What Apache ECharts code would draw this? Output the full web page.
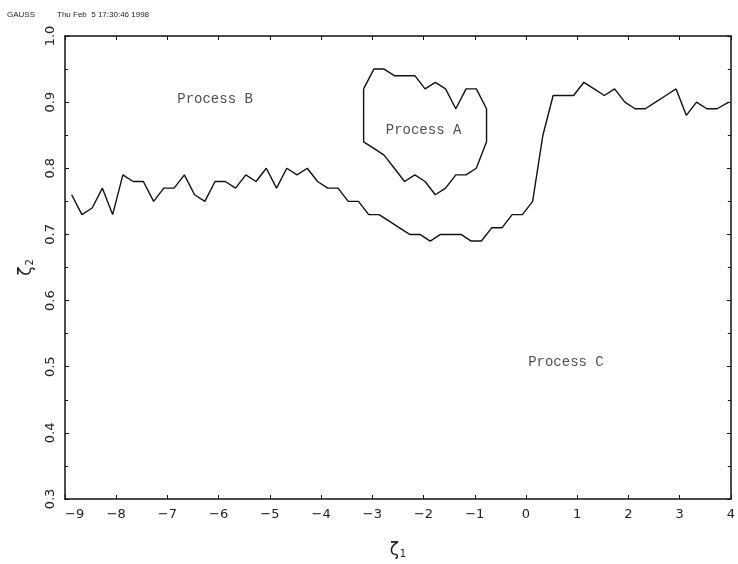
<!DOCTYPE html>
<html>
<head>
<meta charset="utf-8">
<script src="https://cdn.jsdelivr.net/npm/echarts@6/dist/echarts.min.js"></script>
<style>html,body{margin:0;padding:0;background:#fff;}#c{width:738px;height:564px;}</style>
</head>
<body>
<div id="c"></div>
<script>
// ---- data ----
const curveX = [
  -8.87, -8.67, -8.47, -8.27, -8.07, -7.87, -7.67, -7.47, -7.27, -7.07,
  -6.87, -6.67, -6.47, -6.27, -6.07, -5.87, -5.67, -5.47, -5.27, -5.07,
  -4.87, -4.67, -4.47, -4.27, -4.07, -3.87, -3.67, -3.47, -3.27, -3.07,
  -2.87, -2.67, -2.47, -2.27, -2.07, -1.87, -1.67, -1.47, -1.27, -1.07,
  -0.87, -0.67, -0.47, -0.27, -0.07, 0.13, 0.33, 0.53, 0.73, 0.93,
  1.13, 1.33, 1.53, 1.73, 1.93, 2.13, 2.33, 2.53, 2.73, 2.93,
  3.13, 3.33, 3.53, 3.73, 3.96
];
const curveY = [
  0.76, 0.73, 0.74, 0.77, 0.73, 0.79, 0.78, 0.78, 0.75, 0.77,
  0.77, 0.79, 0.76, 0.75, 0.78, 0.78, 0.77, 0.79, 0.78, 0.80,
  0.77, 0.80, 0.79, 0.80, 0.78, 0.77, 0.77, 0.75, 0.75, 0.73,
  0.73, 0.72, 0.71, 0.70, 0.70, 0.69, 0.70, 0.70, 0.70, 0.69,
  0.69, 0.71, 0.71, 0.73, 0.73, 0.75, 0.85, 0.91, 0.91, 0.91,
  0.93, 0.92, 0.91, 0.92, 0.90, 0.89, 0.89, 0.90, 0.91, 0.92,
  0.88, 0.90, 0.89, 0.89, 0.90
];
// closed boundary of region "Process A"
const regionAX = [
  -3.17, -2.97, -2.77, -2.57, -2.37, -2.17, -1.97, -1.77, -1.57, -1.37, -1.17, -0.97, -0.77,
  -0.77, -0.97, -1.17, -1.37, -1.57, -1.77, -1.97, -2.17, -2.37, -2.57, -2.77, -2.97, -3.17, -3.17
];
const regionAY = [
  0.92, 0.95, 0.95, 0.94, 0.94, 0.94, 0.92, 0.93, 0.92, 0.89, 0.92, 0.92, 0.89,
  0.84, 0.80, 0.79, 0.79, 0.77, 0.76, 0.78, 0.79, 0.78, 0.80, 0.82, 0.83, 0.84, 0.92
];
const labelNames = ['Process B', 'Process A', 'Process C'];
const labelX = [-6.07, -2.0, 0.78];
const labelY = [0.905, 0.857, 0.507];
const xTicks = [-9, -8, -7, -6, -5, -4, -3, -2, -1, 0, 1, 2, 3, 4];
const yTicks = [0.3, 0.4, 0.5, 0.6, 0.7, 0.8, 0.9, 1.0];
const headerLeft = 'GAUSS';
const headerRight = 'Thu Feb  5 17:30:46 1998';

const zip = (a, b) => a.map((v, i) => [v, b[i]]);

const ink = '#111';
const axisCommon = {
  type: 'value',
  axisLine: { show: true, onZero: false, lineStyle: { color: ink, width: 1.5 } },
  axisTick: { show: true, inside: true, length: 4, lineStyle: { color: ink, width: 1 } },
  splitLine: { show: false }
};

const chart = echarts.init(document.getElementById('c'), null, { renderer: 'canvas' });
chart.setOption({
  animation: false,
  backgroundColor: '#fff',
  grid: { left: 65, right: 4, top: 36, bottom: 62 },
  xAxis: [
    Object.assign({}, axisCommon, {
      position: 'bottom',
      min: xTicks[0], max: xTicks[xTicks.length - 1], interval: 1,
      axisLabel: {
        show: true, margin: 9, fontSize: 13, fontFamily: 'DejaVu Sans', color: '#222',
        showMinLabel: true, showMaxLabel: true, alignMinLabel: 'left',
        formatter: v => (v < 0 ? '\u2212' + Math.abs(v) : String(v))
      },
      name: '{a|\u03b6}{b|1}',
      nameLocation: 'middle',
      nameGap: 43,
      nameTextStyle: {
        rich: {
          a: { fontSize: 17, fontFamily: 'DejaVu Sans', color: '#222' },
          b: { fontSize: 10, fontFamily: 'DejaVu Sans', color: '#222', verticalAlign: 'bottom', padding: [0, 0, 0, 1] }
        }
      }
    }),
    Object.assign({}, axisCommon, {
      position: 'top',
      min: xTicks[0], max: xTicks[xTicks.length - 1], interval: 1,
      axisLabel: { show: false }
    })
  ],
  yAxis: [
    Object.assign({}, axisCommon, {
      position: 'left',
      min: yTicks[0], max: yTicks[yTicks.length - 1], interval: 0.1,
      minorTick: { show: true, splitNumber: 2, length: 3, lineStyle: { color: ink } },
      axisLabel: {
        show: true, rotate: 90, margin: 8, fontSize: 13, fontFamily: 'DejaVu Sans', color: '#222',
        showMinLabel: true, showMaxLabel: true,
        formatter: v => v.toFixed(1)
      },
      name: '{a|\u03b6}{b|2}',
      nameLocation: 'middle',
      nameRotate: 90,
      nameGap: 30,
      nameTextStyle: {
        rich: {
          a: { fontSize: 17, fontFamily: 'DejaVu Sans', color: '#222' },
          b: { fontSize: 10, fontFamily: 'DejaVu Sans', color: '#222', verticalAlign: 'bottom', padding: [0, 0, 0, 1] }
        }
      }
    }),
    Object.assign({}, axisCommon, {
      position: 'right',
      min: yTicks[0], max: yTicks[yTicks.length - 1], interval: 0.1,
      minorTick: { show: true, splitNumber: 2, length: 3, lineStyle: { color: ink } },
      axisLabel: { show: false }
    })
  ],
  graphic: [
    { type: 'text', left: 7, top: 11, style: { text: headerLeft, font: '8px "Liberation Sans"', fill: '#222' } },
    { type: 'text', left: 57, top: 11, style: { text: headerRight, font: '8px "Liberation Sans"', fill: '#222' } }
  ],
  series: [
    {
      type: 'line', xAxisIndex: 0, yAxisIndex: 0,
      data: zip(curveX, curveY),
      symbol: 'none', smooth: false,
      lineStyle: { color: ink, width: 1.4 }
    },
    {
      type: 'line', xAxisIndex: 0, yAxisIndex: 0,
      data: zip(regionAX, regionAY),
      symbol: 'none', smooth: false,
      lineStyle: { color: ink, width: 1.4 }
    },
    {
      type: 'scatter', xAxisIndex: 0, yAxisIndex: 0,
      data: labelX.map((v, i) => [v, labelY[i], labelNames[i]]),
      symbolSize: 1,
      itemStyle: { color: 'rgba(0,0,0,0)' },
      label: {
        show: true, position: 'inside',
        formatter: p => p.data[2],
        fontSize: 14, fontFamily: 'Liberation Mono', color: '#222'
      }
    }
  ]
});
</script>
</body>
</html>
